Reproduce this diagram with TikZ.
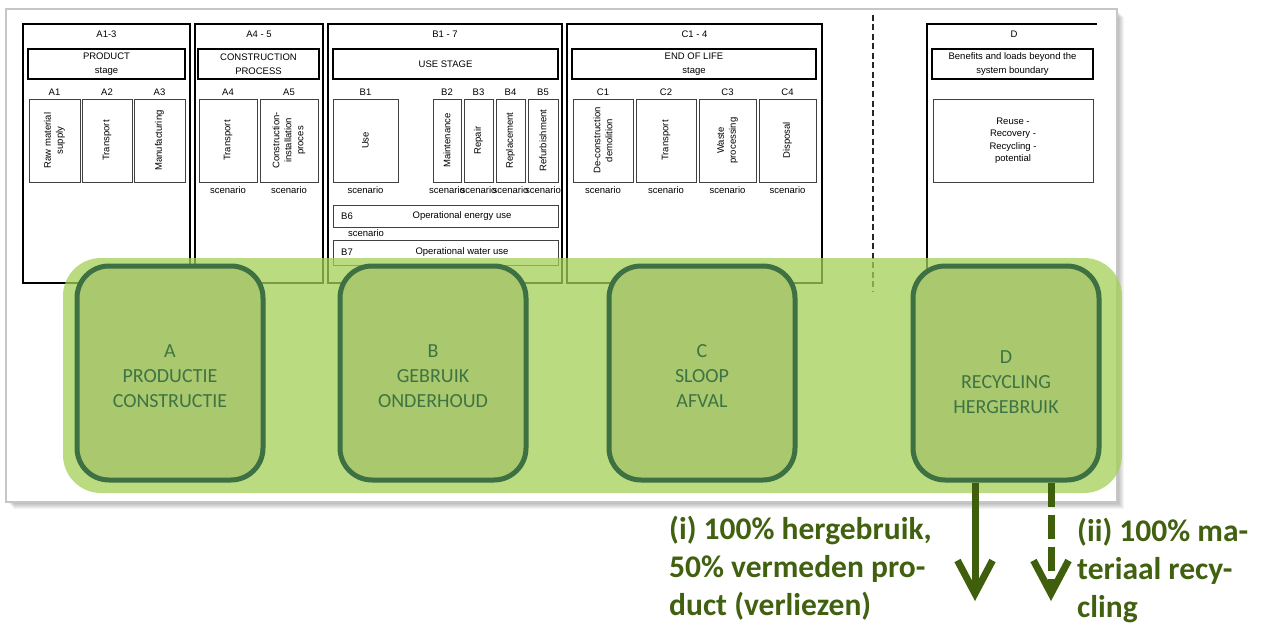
\documentclass[tikz,border=0pt]{standalone}
\usepackage{fontspec}
\setsansfont{Liberation Sans}
\newfontfamily\calibri{Carlito}
\usetikzlibrary{arrows.meta}
\definecolor{bandgreen}{HTML}{A5D058}
\definecolor{innerfill}{HTML}{AAC86E}
\definecolor{innerdraw}{HTML}{3D7042}
\definecolor{innertext}{HTML}{3E7444}
\definecolor{labelgreen}{HTML}{416110}
\definecolor{arrowgreen}{HTML}{3F5F0C}
\definecolor{framegray}{HTML}{C6C6C6}
\newcommand{\mysmall}{\sffamily\fontsize{9.5}{12}\selectfont}
\newcommand{\myvsmall}{\sffamily\fontsize{9.5}{12}\selectfont}
\newcommand{\mystage}{\sffamily\fontsize{9.5}{13.5}\selectfont}
\begin{document}
\begin{tikzpicture}[x=1pt,y=-1pt,
  panel/.style={draw=black, line width=1.6pt, inner sep=0},
  hdr/.style={font=\mysmall, inner sep=0},
  stagebox/.style={draw=black, line width=1.9pt, inner sep=0, align=center, font=\mystage, minimum height=30},
  subbox/.style={draw=black!75, line width=1pt, inner sep=0, minimum height=83},
  vtext/.style={rotate=90, align=center, font=\myvsmall, inner sep=0},
  sublbl/.style={font=\mysmall, inner sep=0},
  gbox/.style={draw=innerdraw, line width=5pt, fill=innerfill, rounded corners=32, minimum width=186, minimum height=214},
  gtext/.style={text=innertext, font=\calibri\fontsize{20}{25}\selectfont, align=center, inner sep=0},
  lbl/.style={text=labelgreen, font=\calibri\bfseries\fontsize{31.5}{38}\selectfont, align=left, inner sep=0},
  arrowline/.style={draw=arrowgreen, line width=7pt, -{Straight Barb[length=33pt, width=35pt]}}
]
\useasboundingbox (0,0) rectangle (1264,626);
\fill[white] (0,0) rectangle (1264,626);
% screenshot frame with shadow
\foreach \i in {1,...,7}{
  \fill[black, opacity=0.045] (6+\i+1,9+\i+1) rectangle (1117+\i,502+\i);
}
\draw[draw=framegray, line width=1.5pt, fill=white] (6,9) rectangle (1117,502);

% ---- panels
\node[panel, minimum width=167, minimum height=259] (pA) at (106.5,153.5) {};
\node[panel, minimum width=128, minimum height=259] (pA45) at (259,153.5) {};
\node[panel, minimum width=234, minimum height=259] (pB) at (445,153.5) {};
\node[panel, minimum width=255, minimum height=259] (pC) at (694.5,153.5) {};
\coordinate (dTL) at (927,24);
\coordinate (dTR) at (1097,24);
\coordinate (dBL) at (927,283);
\draw[line width=1.6pt] (dTR) -- (dTL) -- (dBL);
\coordinate (dashT) at (873,15);
\coordinate (dashB) at (873,292);
\draw[draw=black!85, line width=2pt, dash pattern=on 6pt off 3.5pt] (dashT) -- (dashB);

\node[hdr] (hA) at (106.5,34) {A1-3};
\node[hdr] (hA45) at (259,34) {A4 - 5};
\node[hdr] (hB) at (445,34) {B1 - 7};
\node[hdr] (hC) at (694.5,34) {C1 - 4};
\node[hdr] (hD) at (1014,34) {D};

% ---- stage boxes
\node[stagebox, minimum width=157] (sA) at (106.5,64) {PRODUCT\\stage};
\node[stagebox, minimum width=121] (sA45) at (258.5,64) {CONSTRUCTION\\PROCESS};
\node[stagebox, minimum width=225] (sB) at (445.5,64) {USE STAGE};
\node[stagebox, minimum width=244] (sC) at (694,64) {END OF LIFE\\stage};
\node[stagebox, minimum width=161] (sD) at (1012.5,64) {Benefits and loads beyond the\\system boundary};

% ---- module boxes
\node[subbox, minimum width=51] (a1) at (54.5,140.5) {};
\node[subbox, minimum width=50] (a2) at (107,140.5) {};
\node[subbox, minimum width=51] (a3) at (159.5,140.5) {};
\node[subbox, minimum width=58] (a4) at (228,140.5) {};
\node[subbox, minimum width=58] (a5) at (289,140.5) {};
\node[subbox, minimum width=65] (b1) at (365.5,140.5) {};
\node[subbox, minimum width=28] (b2) at (447,140.5) {};
\node[subbox, minimum width=29] (b3) at (478.5,140.5) {};
\node[subbox, minimum width=29] (b4) at (510.5,140.5) {};
\node[subbox, minimum width=30] (b5) at (543,140.5) {};
\node[subbox, minimum width=60] (c1) at (603,140.5) {};
\node[subbox, minimum width=60] (c2) at (666,140.5) {};
\node[subbox, minimum width=57] (c3) at (727.5,140.5) {};
\node[subbox, minimum width=57] (c4) at (787.5,140.5) {};
\node[subbox, minimum width=160, align=center, font=\sffamily\fontsize{9.5}{12.5}\selectfont] (d1) at (1013,140.5) {Reuse -\\Recovery -\\Recycling -\\potential};

\node[vtext] (ta1) at (a1) {Raw material\\supply};
\node[vtext] (ta2) at (a2) {Transport};
\node[vtext] (ta3) at (a3) {Manufacturing};
\node[vtext] (ta4) at (a4) {Transport};
\node[vtext] (ta5) at (a5) {Construction-\\installation\\proces};
\node[vtext] (tb1) at (b1) {Use};
\node[vtext] (tb2) at (b2) {Maintenance};
\node[vtext] (tb3) at (b3) {Repair};
\node[vtext] (tb4) at (b4) {Replacement};
\node[vtext] (tb5) at (b5) {Refurbishment};
\node[vtext] (tc1) at (c1) {De-construction\\demolition};
\node[vtext] (tc2) at (c2) {Transport};
\node[vtext] (tc3) at (c3) {Waste\\processing};
\node[vtext] (tc4) at (c4) {Disposal};

% labels above
\foreach \n/\t in {a1/A1,a2/A2,a3/A3,a4/A4,a5/A5,b1/B1,b2/B2,b3/B3,b4/B4,b5/B5,c1/C1,c2/C2,c3/C3,c4/C4}{
  \node[sublbl, anchor=base] (l\n) at ([yshift=3pt]\n.north) {\t};
}
% scenario labels below
\foreach \n in {a4,a5,b1,b2,b3,b4,b5,c1,c2,c3,c4}{
  \node[sublbl, anchor=base] (s\n) at ([yshift=-11pt]\n.south) {scenario};
}

% B6 / B7
\node[subbox, minimum width=225, minimum height=22] (b6) at (445.5,216) {};
\node[sublbl, anchor=west] (b6l) at (341,216) {B6};
\node[sublbl] (b6t) at (462,216) {Operational energy use};
\node[sublbl] (b6s) at (366,233) {scenario};
\node[subbox, minimum width=225, minimum height=25] (b7) at (445.5,252.5) {};
\node[sublbl, anchor=west] (b7l) at (341,252) {B7};
\node[sublbl] (b7t) at (462,252) {Operational water use};

% ---- green band
\node[fill=bandgreen, fill opacity=0.75, rounded corners=38, minimum width=1059, minimum height=235, inner sep=0] (band) at (592.5,375.5) {};

\node[gbox] (gA) at (170,373) {};
\node[gbox] (gB) at (433,373) {};
\node[gbox] (gC) at (702,373) {};
\node[gbox] (gD) at (1006,373) {};
\node[gtext] (tA) at (170,376) {A\\PRODUCTIE\\CONSTRUCTIE};
\node[gtext] (tB) at (433,376) {B\\GEBRUIK\\ONDERHOUD};
\node[gtext] (tC) at (702,376) {C\\SLOOP\\AFVAL};
\node[gtext] (tD) at (1006,382) {D\\RECYCLING\\HERGEBRUIK};

% ---- arrows
\coordinate (tipI) at (975,601);
\coordinate (tipII) at (1051,601);
\draw[arrowline] (gD.south -| tipI) -- (tipI);
\draw[arrowline, dash pattern=on 24pt off 8pt] (gD.south -| tipII) -- (tipII);

\node[lbl, anchor=north west] (lI) at (669,516) {(i) 100\% hergebruik,\\50\% vermeden pro-\\duct (verliezen)};
\node[lbl, anchor=north west] (lII) at (1077,518) {(ii) 100\% ma-\\teriaal recy-\\cling};
\end{tikzpicture}
\end{document}
